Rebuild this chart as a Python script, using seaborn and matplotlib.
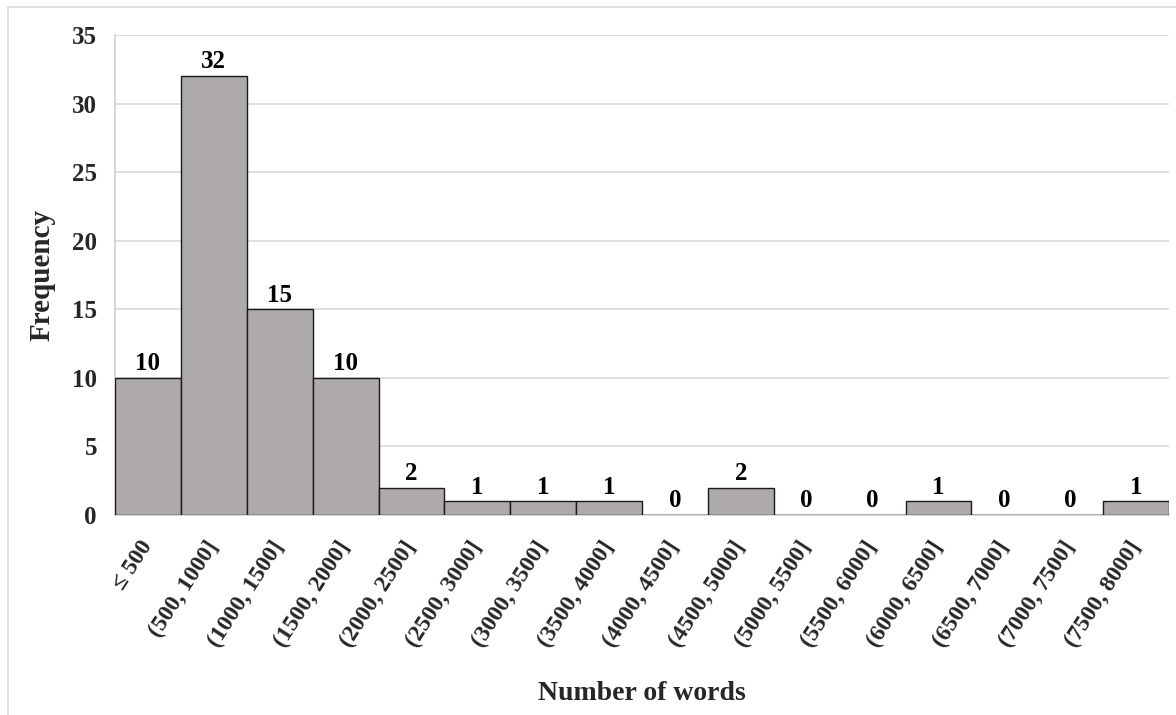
import matplotlib
matplotlib.use("Agg")
import matplotlib.pyplot as plt
import matplotlib.patches as mpatches
import seaborn as sns
import pandas as pd

categories = ["≤ 500", "(500, 1000]", "(1000, 1500]", "(1500, 2000]", "(2000, 2500]",
              "(2500, 3000]", "(3000, 3500]", "(3500, 4000]", "(4000, 4500]", "(4500, 5000]",
              "(5000, 5500]", "(5500, 6000]", "(6000, 6500]", "(6500, 7000]", "(7000, 7500]",
              "(7500, 8000]"]
frequency = [10, 32, 15, 10, 2, 1, 1, 1, 0, 2, 0, 0, 1, 0, 0, 1]
y_ticks = [0, 5, 10, 15, 20, 25, 30, 35]

sns.set_theme(style="white")
plt.rcParams['font.family'] = ['Liberation Serif', 'DejaVu Serif']
plt.rcParams['font.weight'] = 'bold'

df = pd.DataFrame({"cat": categories, "freq": frequency})

fig = plt.figure(figsize=(11.76, 7.15), dpi=100)
ax = fig.add_axes([115/1176, 1 - 515/715, (1169-115)/1176, (515-35)/715])

sns.barplot(data=df, x="cat", y="freq", order=categories, color="#aeaaaa",
            saturation=1, width=1.0, edgecolor="#1a1a1a", linewidth=1.0, ax=ax, zorder=3)

ax.set_xlim(-0.5, len(categories) - 0.5)
ax.set_ylim(0, 35)
ax.set_yticks(y_ticks)
ax.set_yticklabels([str(v) for v in y_ticks], fontsize=18, fontweight='bold')
ax.yaxis.grid(True, color="#d9d9d9", linewidth=1.2, zorder=0)
ax.xaxis.grid(False)
ax.set_axisbelow(True)
ax.tick_params(axis='both', length=0)
ax.tick_params(axis='y', pad=13)
ax.tick_params(axis='x', pad=20)
ax.set_xticks(range(len(categories)))
ax.set_xticklabels(categories, rotation=57, ha='right', va='center',
                   rotation_mode='anchor', fontsize=17, fontweight='bold')

for s in ["top", "right"]:
    ax.spines[s].set_visible(False)
for s in ["left", "bottom"]:
    ax.spines[s].set_color("#d0d0d0")
    ax.spines[s].set_linewidth(1.2)

for i, v in enumerate(frequency):
    ax.annotate(str(v), (i, v), xytext=(0, 2), textcoords="offset points",
                ha='center', va='bottom', fontsize=18, fontweight='bold', color='black')

ax.set_ylabel("Frequency", fontsize=21, fontweight='bold', labelpad=12)
ax.set_xlabel("Number of words", fontsize=20, fontweight='bold', labelpad=22)

fig.add_artist(mpatches.Rectangle((8/1176, -0.1), 1.2, 1 - 7/715 + 0.1,
                                  transform=fig.transFigure, fill=False,
                                  edgecolor="#d9d9d9", linewidth=1.2))

fig.savefig("out.png", dpi=100)
